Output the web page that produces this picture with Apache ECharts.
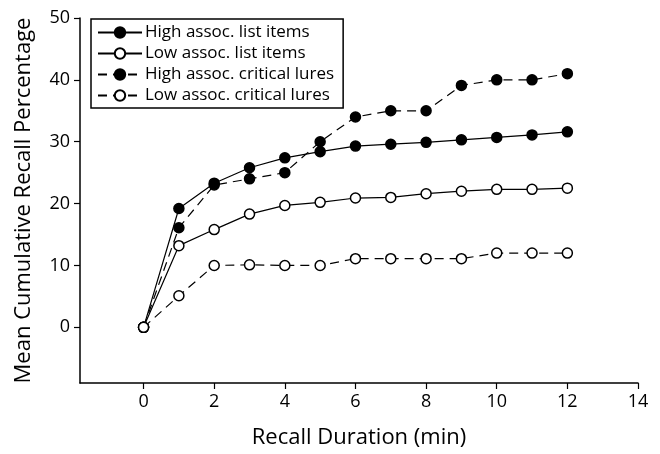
<!DOCTYPE html>
<html>
<head>
<meta charset="utf-8">
<script src="https://cdn.jsdelivr.net/npm/echarts@6/dist/echarts.min.js"></script>
<style>html,body{margin:0;padding:0;background:#fff}#c{width:660px;height:454px}</style>
</head>
<body>
<div id="c"></div>
<script>
const minutes = [0,1,2,3,4,5,6,7,8,9,10,11,12];
const highList  = [0,19.2,23.3,25.8,27.4,28.4,29.3,29.6,29.9,30.3,30.7,31.1,31.6];
const lowList   = [0,13.2,15.8,18.3,19.7,20.2,20.9,21.0,21.6,22.0,22.3,22.3,22.5];
const highLures = [0,16.1,23.0,24.0,25.0,30.0,34.0,35.0,35.0,39.1,40.0,40.0,41.0];
const lowLures  = [0,5.1,10.0,10.1,10.0,10.0,11.1,11.1,11.1,11.1,12.0,12.0,12.0];
const seriesNames = ['High assoc. list items','Low assoc. list items','High assoc. critical lures','Low assoc. critical lures'];
const xTicks = [0,2,4,6,8,10,12,14];
const yTicks = [0,10,20,30,40,50];

const FONT = 'Open Sans';
function pairs(arr){ return minutes.map((m,i)=>[m,arr[i]]); }
function mk(name, data, filled, dashed){
  return {
    name, type:'line', data: pairs(data),
    symbol:'circle', symbolSize: 10,
    lineStyle:{color:'#000', width:1.2, type: dashed ? [9,6] : 'solid'},
    itemStyle:{color: filled ? '#000' : '#fff', borderColor:'#000', borderWidth:1.5},
    emphasis:{disabled:true}, animation:false
  };
}
const chart = echarts.init(document.getElementById('c'), null, {renderer:'canvas'});
chart.setOption({
  backgroundColor:'#fff',
  animation:false,
  grid:{left:80, right:22, top:18, bottom:68, containLabel:false},
  legend:{
    orient:'vertical', left:91, top:19,
    padding:[5,9,4,6], itemGap:4, itemWidth:44, itemHeight:13,
    borderColor:'#000', borderWidth:1.5,
    textStyle:{fontFamily:FONT, fontSize:17, lineHeight:17, color:'#000', padding:[0,0,0,-2]},
    data: seriesNames
  },
  xAxis:{
    type:'value', min:-1.8, max:14,
    name:'Recall Duration (min)', nameLocation:'middle', nameGap:44,
    nameTextStyle:{fontFamily:FONT, fontSize:22, color:'#000'},
    axisLine:{show:true, onZero:false, lineStyle:{color:'#000', width:1.5}},
    axisTick:{show:true, length:6, lineStyle:{color:'#000', width:1.2}, customValues:xTicks},
    axisLabel:{fontFamily:FONT, fontSize:18, color:'#000', margin:10, customValues:xTicks},
    splitLine:{show:false}
  },
  yAxis:{
    type:'value', min:-9, max:50,
    name:'Mean Cumulative Recall Percentage', nameLocation:'middle', nameGap:45, nameRotate:90,
    nameTextStyle:{fontFamily:FONT, fontSize:22, color:'#000'},
    axisLine:{show:true, onZero:false, lineStyle:{color:'#000', width:1.5}},
    axisTick:{show:true, length:6, lineStyle:{color:'#000', width:1.2}, customValues:yTicks},
    axisLabel:{fontFamily:FONT, fontSize:18, color:'#000', margin:10, customValues:yTicks},
    splitLine:{show:false}
  },
  series:[
    mk(seriesNames[0], highList, true, false),
    mk(seriesNames[1], lowList, false, false),
    mk(seriesNames[2], highLures, true, true),
    mk(seriesNames[3], lowLures, false, true)
  ]
});
</script>
</body>
</html>
